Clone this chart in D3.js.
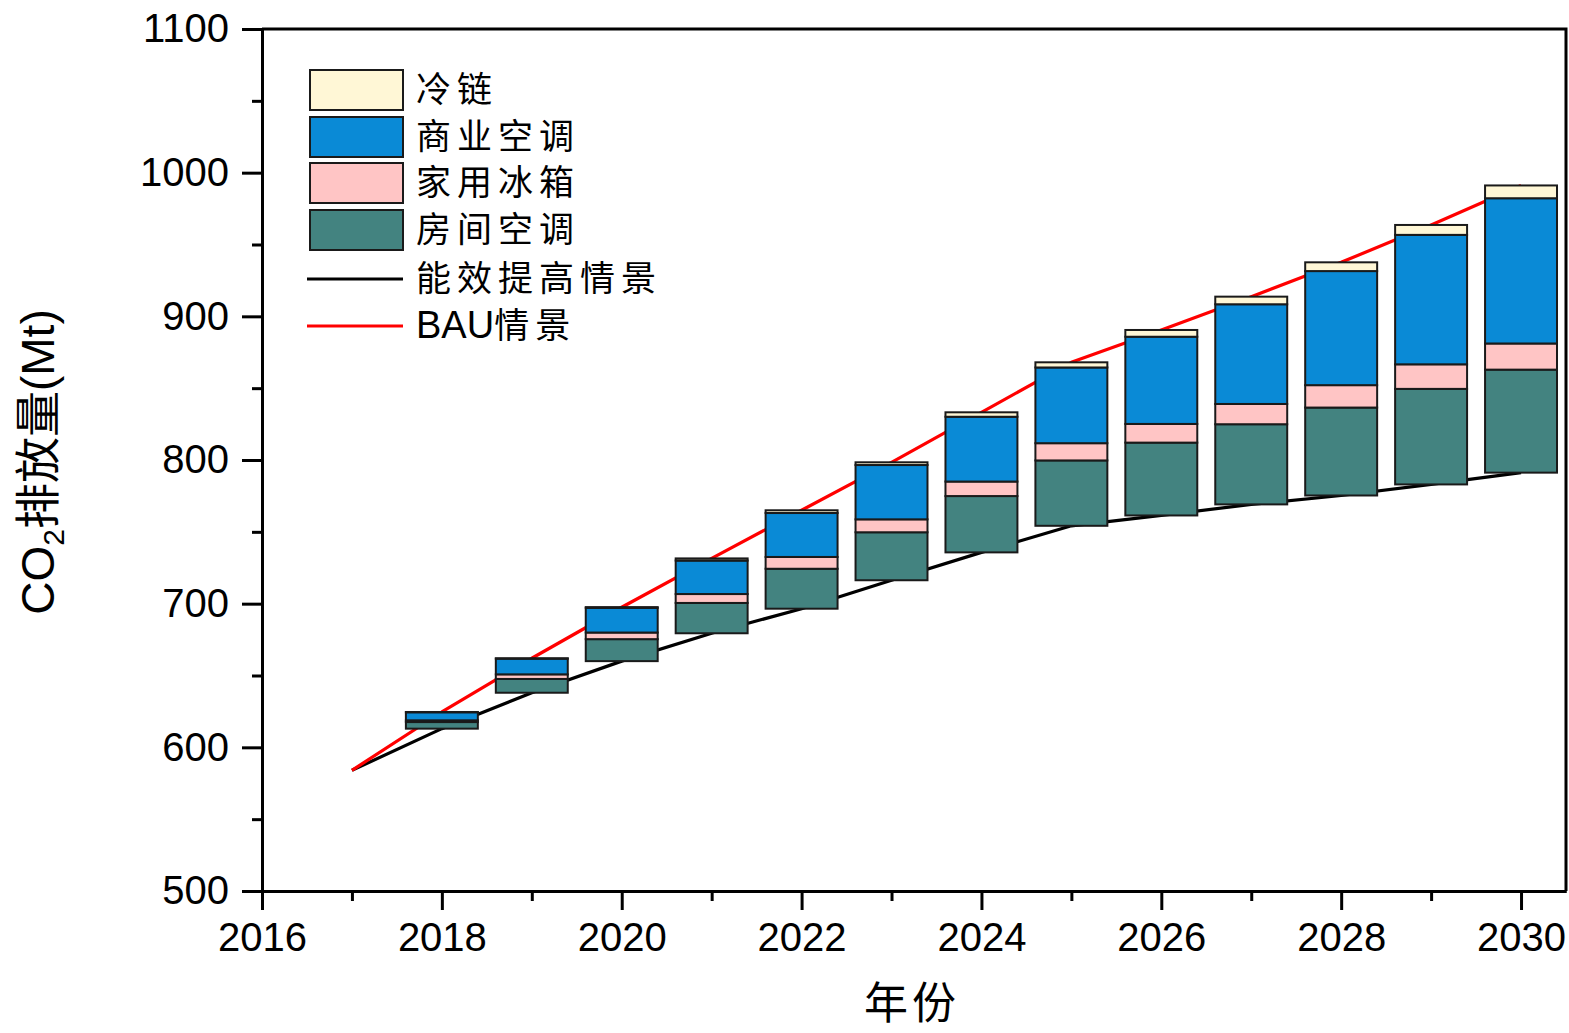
<!DOCTYPE html>
<html>
<head>
<meta charset="utf-8">
<script src="https://cdn.jsdelivr.net/npm/d3@7"></script>
<style>
  html, body { margin: 0; padding: 0; background: #fff; }
  svg { display: block; }
  .tick text { font-family: "Liberation Sans", Arial, sans-serif; }
</style>
</head>
<body>
<svg id="chart" width="1569" height="1033"></svg>
<script>
// Years with scenario lines (2017–2030) and years with savings bars (2018–2030)
const lineYears = [2017, 2018, 2019, 2020, 2021, 2022, 2023, 2024, 2025, 2026, 2027, 2028, 2029, 2030];
const bauValues = [584, 624.6, 662, 697.5, 731.5, 765, 798.4, 833.2, 868, 890.5, 913.7, 937.6, 963.6, 991.1];
const effValues = [584, 613, 638, 660, 679.4, 696.5, 716.3, 735.7, 754.2, 761.4, 769.1, 775.3, 783, 791.2];

const barYears = [2018, 2019, 2020, 2021, 2022, 2023, 2024, 2025, 2026, 2027, 2028, 2029, 2030];
// Emission reductions by sector (Mt), stacked upward from the efficiency scenario
const roomAC       = [4.6, 9.6, 15.3, 21.1, 27.8, 33.4, 39.2, 45.5, 50.7, 55.8, 61.2, 66.5, 71.7];
const fridge       = [1.2, 3.2, 4.6, 6.2, 8.2, 9.0, 10.1, 12.0, 13.0, 14.1, 15.6, 17.1, 18.2];
const commercialAC = [5.6, 10.9, 17.2, 23.3, 30.6, 37.8, 45.1, 52.7, 60.7, 69.4, 79.4, 90.1, 101.1];
const coldChain    = [0.2, 0.3, 0.5, 1.5, 1.9, 1.9, 3.1, 3.6, 4.7, 5.3, 6.1, 6.9, 8.9];

const seriesNames = ["房间空调", "家用冰箱", "商业空调", "冷链"];
const seriesColors = ["#438380", "#FFC5C5", "#0A8AD6", "#FFF7D6"];
const legendNames = ["冷链", "商业空调", "家用冰箱", "房间空调"];

const yTicks = [500, 600, 700, 800, 900, 1000, 1100];
const yMinorTicks = [550, 650, 750, 850, 950, 1050];
const xTicks = [2016, 2018, 2020, 2022, 2024, 2026, 2028, 2030];
const xMinorTicks = [2017, 2019, 2021, 2023, 2025, 2027, 2029];

const svg = d3.select("#chart");
const plotLeft = 262, plotRight = 1566, plotTop = 29, plotBottom = 891;

const x = d3.scaleLinear().domain([2016, 2030.5]).range([plotLeft, plotRight]);
const y = d3.scaleLinear().domain([500, 1100]).range([plotBottom, plotTop]);

const cjk = "'Noto Sans CJK SC', 'Noto Sans', sans-serif";
const latin = "'Liberation Sans', Arial, sans-serif";

// Scenario lines (drawn beneath the bars)
const lineGen = d3.line().x(d => x(d[0])).y(d => y(d[1]));
svg.append("path")
  .datum(lineYears.map((yr, i) => [yr, effValues[i]]))
  .attr("d", lineGen).attr("fill", "none")
  .attr("stroke", "#000").attr("stroke-width", 3.2).attr("stroke-linejoin", "round");
svg.append("path")
  .datum(lineYears.map((yr, i) => [yr, bauValues[i]]))
  .attr("d", lineGen).attr("fill", "none")
  .attr("stroke", "#FF0000").attr("stroke-width", 3.2).attr("stroke-linejoin", "round");

// Floating stacked bars
const rows = barYears.map((yr, i) => ({
  year: yr,
  base: effValues[lineYears.indexOf(yr)],
  vals: [roomAC[i], fridge[i], commercialAC[i], coldChain[i]]
}));
const barW = x(2018.4) - x(2017.6);
const barG = svg.append("g");
rows.forEach(r => {
  let acc = r.base;
  r.vals.forEach((v, k) => {
    const y0 = acc, y1 = acc + v;
    acc = y1;
    barG.append("rect")
      .attr("x", x(r.year) - barW / 2)
      .attr("y", y(y1))
      .attr("width", barW)
      .attr("height", Math.max(0, y(y0) - y(y1)))
      .attr("fill", seriesColors[k])
      .attr("stroke", "#1a1a1a")
      .attr("stroke-width", 2);
  });
});

// Axes
svg.append("g").attr("transform", `translate(0,${plotBottom})`)
  .call(d3.axisBottom(x).tickValues(xTicks).tickFormat(d3.format("d")).tickSize(19).tickSizeOuter(0).tickPadding(13));
svg.append("g").attr("transform", `translate(0,${plotBottom})`)
  .call(d3.axisBottom(x).tickValues(xMinorTicks).tickFormat("").tickSize(10).tickSizeOuter(0));
svg.append("g").attr("transform", `translate(${plotLeft},0)`)
  .call(d3.axisLeft(y).tickValues(yTicks).tickFormat(d3.format("d")).tickSize(20).tickSizeOuter(0).tickPadding(13));
svg.append("g").attr("transform", `translate(${plotLeft},0)`)
  .call(d3.axisLeft(y).tickValues(yMinorTicks).tickFormat("").tickSize(10).tickSizeOuter(0));

svg.selectAll(".domain").attr("stroke", "#000").attr("stroke-width", 3);
svg.selectAll(".tick line").attr("stroke", "#000").attr("stroke-width", 3);
svg.selectAll(".tick text").attr("fill", "#000").style("font-size", "40px").style("font-family", latin);

// Frame top and right edges
svg.append("path")
  .attr("d", `M${plotLeft},${plotTop}H${plotRight}V${plotBottom}`)
  .attr("fill", "none").attr("stroke", "#000").attr("stroke-width", 3);

// Axis titles
svg.append("text")
  .attr("x", 912).attr("y", 1019)
  .attr("text-anchor", "middle")
  .style("font-family", cjk).style("font-size", "44px")
  .style("letter-spacing", "4px")
  .text("年份");

const yt = svg.append("text")
  .attr("transform", "translate(54,462) rotate(-90)")
  .attr("text-anchor", "middle")
  .style("font-family", latin).style("font-size", "46px");
yt.append("tspan").text("CO");
yt.append("tspan").attr("dy", 10).style("font-size", "30px").text("2");
yt.append("tspan").attr("dy", -10).style("font-family", cjk).text("排放量");
yt.append("tspan").text("(Mt)");

// Legend
const lg = svg.append("g");
const swX = 310, swW = 93, swH = 40;
const swTops = [70, 117, 163, 210];
const legendFont = "35px", legendSpacing = "6px";
legendNames.forEach((name, i) => {
  const k = seriesNames.indexOf(name);
  lg.append("rect")
    .attr("x", swX).attr("y", swTops[i]).attr("width", swW).attr("height", swH)
    .attr("fill", seriesColors[k]).attr("stroke", "#1a1a1a").attr("stroke-width", 2);
  lg.append("text")
    .attr("x", 416).attr("y", swTops[i] + swH / 2 + 12)
    .style("font-family", cjk).style("font-size", legendFont)
    .style("letter-spacing", legendSpacing)
    .text(name);
});
const lineLegend = [
  { name: "能效提高情景", color: "#000", yPos: 279 },
  { name: "BAU情景", color: "#FF0000", yPos: 326 }
];
lineLegend.forEach(d => {
  lg.append("line")
    .attr("x1", 307).attr("x2", 403).attr("y1", d.yPos).attr("y2", d.yPos)
    .attr("stroke", d.color).attr("stroke-width", 3);
  const t = lg.append("text")
    .attr("x", 416).attr("y", d.yPos + 12)
    .style("font-family", cjk).style("font-size", legendFont)
    .style("letter-spacing", legendSpacing);
  if (d.name.startsWith("BAU")) {
    t.append("tspan").style("font-family", latin).style("font-size", "38px")
      .style("letter-spacing", "0px").text("BAU");
    t.append("tspan").text("情景");
  } else {
    t.text(d.name);
  }
});
</script>
</body>
</html>
